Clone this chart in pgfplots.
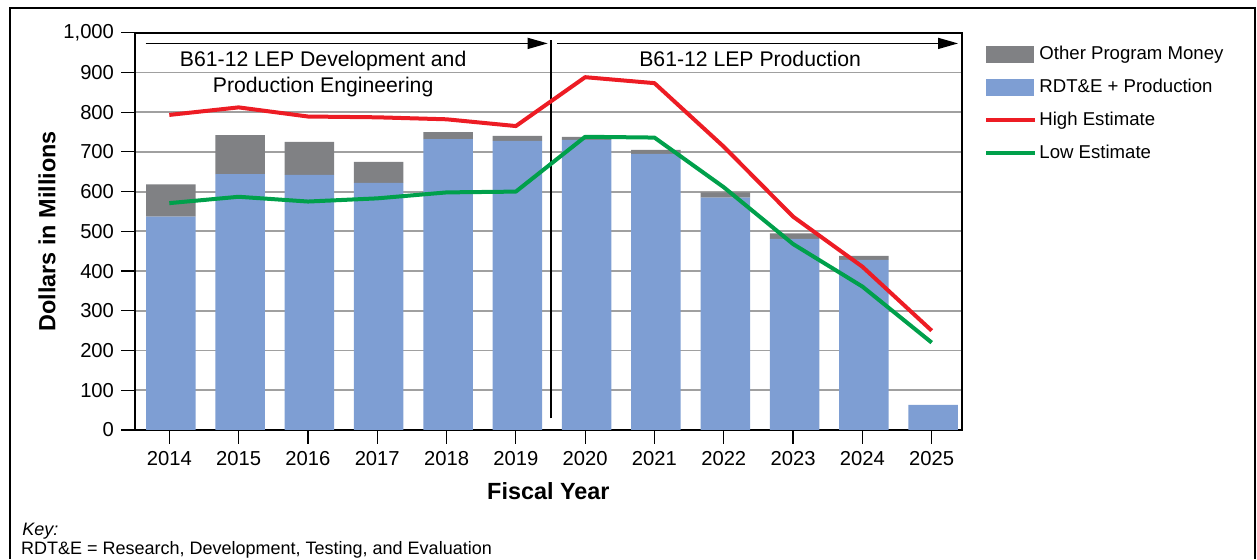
\documentclass[border=0pt]{standalone}
\usepackage{fontspec}
\setmainfont{Liberation Sans}
\usepackage{pgfplots}
\usepackage{pgfplotstable}
\pgfplotsset{compat=1.18}
\usetikzlibrary{arrows.meta}
\definecolor{barblue}{RGB}{126,158,211}
\definecolor{bargray}{RGB}{128,129,132}
\definecolor{hired}{RGB}{237,28,36}
\definecolor{logreen}{RGB}{0,160,75}
\definecolor{gridgray}{RGB}{160,160,160}

\pgfplotstableread{
year rdte other
2014 537 81
2015 644 98
2016 642 83
2017 622 53
2018 732 18
2019 728 12
2020 730 8
2021 695 10
2022 585 13
2023 481 14
2024 428 10
2025 63 0
}\bardata

\pgfplotstableread{
year high low
2014 793 571
2015 812 587
2016 789 575
2017 787 583
2018 782 598
2019 765 600
2020 888 738
2021 873 736
2022 713 611
2023 537 468
2024 411 361
2025 250 220
}\estdata

\begin{document}
\begin{tikzpicture}
\path[draw=none] (0,0) rectangle (628.5pt,279.5pt);
\draw[line width=1pt] (5pt,0pt) -- (5pt,275.5pt) -- (627.5pt,275.5pt) -- (627.5pt,0pt);
\begin{axis}[
  set layers=standard,
  at={(67.5pt,64.5pt)}, anchor=south west,
  scale only axis, width=413.35pt, height=198.65pt,
  xmin=2013.505, xmax=2025.433, ymin=0, ymax=1000,
  enlargelimits=false,
  ybar stacked, bar width=24.75pt, bar shift=0.75pt,
  xtick={2014,2015,...,2025},
  ytick={0,100,...,1000},
  tick align=outside, tick pos=left,
  major tick length=7pt,
  every tick/.style={black, line width=0.6pt},
  axis line style={line width=1pt},
  ymajorgrids, grid style={gridgray, line width=0.9pt},
  /pgf/number format/assume math mode=true,
  scaled y ticks=false,
  xticklabel style={font=\fontsize{10.1}{12}\selectfont, /pgf/number format/1000 sep={}},
  yticklabel style={font=\fontsize{10.1}{12}\selectfont, /pgf/number format/1000 sep={,}},
  ylabel={Dollars in Millions},
  ylabel style={font=\bfseries\fontsize{11.7}{14}\selectfont, at={(axis description cs:-0.1064,0.5)}, anchor=center},
  xlabel={Fiscal Year},
  xlabel style={font=\bfseries\fontsize{11.7}{14}\selectfont, at={(axis description cs:0.5,-0.1535)}, anchor=center},
  legend style={at={(axis description cs:1.027,0.969)}, anchor=north west,
    draw=none, fill=none, inner sep=0pt,
    font=\fontsize{9.3}{11}\selectfont,
    nodes={inner sep=0pt, text height=7pt, text depth=2pt},
    row sep=7.5pt, column sep=1pt},
  legend cell align=left,
]
\addlegendimage{legend image code/.code={\fill[bargray] (0pt,-4.2pt) rectangle (23.5pt,4.2pt);}}
\addlegendentry{Other Program Money}
\addlegendimage{legend image code/.code={\fill[barblue] (0pt,-4.2pt) rectangle (23.5pt,4.2pt);}}
\addlegendentry{RDT\&E + Production}
\addlegendimage{legend image code/.code={\draw[hired, line width=2pt] (0pt,0pt) -- (24.5pt,0pt);}}
\addlegendentry{High Estimate}
\addlegendimage{legend image code/.code={\draw[logreen, line width=2pt] (0pt,0pt) -- (24.5pt,0pt);}}
\addlegendentry{Low Estimate}

\addplot[fill=barblue, draw=none, forget plot] table[x=year, y=rdte] {\bardata};
\addplot[fill=bargray, draw=none, forget plot] table[x=year, y=other] {\bardata};
\addplot[hired, line width=2pt, sharp plot, stack plots=false, forget plot, line join=round, on layer=axis foreground] table[x=year, y=high] {\estdata};
\addplot[logreen, line width=2pt, sharp plot, stack plots=false, forget plot, line join=round, on layer=axis foreground] table[x=year, y=low] {\estdata};

\draw[black, line width=1pt] (axis cs:2019.5,29.5) -- (axis cs:2019.5,981.6);
\draw[black, line width=0.7pt, -{Triangle[length=10pt,width=5.5pt]}] (axis cs:2013.66,973) -- (axis cs:2019.46,973);
\draw[black, line width=0.7pt, -{Triangle[length=10pt,width=5.5pt]}] (axis cs:2019.6,973) -- (axis cs:2025.38,973);
\node[anchor=base, font=\fontsize{10.6}{12}\selectfont, inner sep=0pt] at (axis cs:2016.22,916) {B61-12 LEP Development and};
\node[anchor=base, font=\fontsize{10.6}{12}\selectfont, inner sep=0pt] at (axis cs:2016.22,849) {Production Engineering};
\node[anchor=base, font=\fontsize{10.6}{12}\selectfont, inner sep=0pt] at (axis cs:2022.38,916) {B61-12 LEP Production};
\end{axis}
\node[anchor=base west, font=\itshape\fontsize{9}{11}\selectfont, inner sep=0pt] at (11pt,11.5pt) {Key:};
\node[anchor=base west, font=\fontsize{9}{11}\selectfont, inner sep=0pt] at (10.35pt,2pt) {RDT\&E = Research, Development, Testing, and Evaluation};
\end{tikzpicture}
\end{document}
